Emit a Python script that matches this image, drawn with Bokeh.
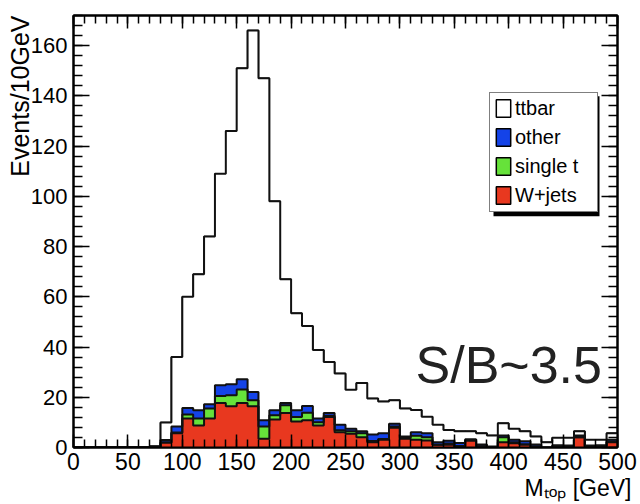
import numpy as np
from bokeh.plotting import figure
from bokeh.models import (Range1d, LinearAxis, SingleIntervalTicker, Label, Legend,
                          LegendItem, BoxAnnotation, CustomJSTickFormatter, Title)
from bokeh.embed import file_html
from bokeh.resources import INLINE

# ---- data: 10 GeV bins from 0 to 500 (left edges) ----
bin_lo = list(range(0, 500, 10))
bin_width = 10

wjets = [0, 0, 0, 0, 0, 0, 0, 0, 2.0, 5.7,
         11.5, 8.8, 11.5, 17.7, 16.4, 17.7, 16.4, 3.5, 11.1, 13.7,
         10.4, 10.8, 8.8, 12.1, 6.1, 5.5, 4.1, 2.1, 3.1, 7.9,
         3.5, 3.1, 2.8, 1.1, 1.1, 0.3, 2.8, 0.5, 0.0, 2.1,
         1.7, 1.2, 0.4, 0.0, 0.3, 0.3, 4.1, 0.3, 0.4, 2.1]
single_t = [0, 0, 0, 0, 0, 0, 0, 0, 0.0, 0.3,
            1.6, 2.7, 4.0, 2.8, 4.4, 5.4, 2.4, 4.9, 1.7, 3.1,
            1.7, 3.0, 1.3, 0.5, 0.8, 1.0, 1.6, 0.5, 0.3, 0.5,
            0.4, 1.6, 1.3, 0.0, 0.5, 0.3, 0.0, 0.0, 0.0, 2.0,
            0.4, 0.0, 0.0, 0.0, 0.0, 0.0, 0.0, 0.0, 0.0, 0.3]
other = [0, 0, 0, 0, 0, 0, 0, 0, 1.0, 2.4,
         2.6, 3.3, 1.7, 4.3, 4.4, 4.1, 3.3, 2.4, 2.0, 0.9,
         2.7, 2.7, 1.4, 1.1, 2.2, 1.0, 0.8, 2.6, 2.3, 1.1,
         0.5, 1.4, 1.6, 1.0, 1.1, 1.2, 0.5, 0.7, 0.4, 0.7,
         1.0, 1.3, 0.8, 0.0, 0.6, 0.5, 0.7, 0.5, 0.5, 0.7]
ttbar = [0, 0, 0, 0, 0, 0, 0, 0.5, 7.0, 27.6,
         44.3, 54.2, 66.8, 84.2, 100.8, 123.8, 143.9, 136.2, 83.2, 49.3,
         38.7, 31.9, 27.3, 20.3, 20.4, 15.5, 19.2, 14.3, 12.6, 9.3,
         11.1, 8.8, 6.5, 7.0, 4.3, 4.7, 3.2, 4.5, 4.4, 4.9,
         4.4, 4.0, 3.2, 2.1, 3.0, 3.1, 1.7, 2.3, 2.2, 2.6]

legend_order = ["ttbar", "other", "single t", "W+jets"]
colors = {"W+jets": "#e8381f", "single t": "#66e23a", "other": "#1443e8", "ttbar": "#ffffff"}

x_title = "M\u209c\u2092\u209a [GeV]"
y_title = "Events/10GeV"
note = "S/B~3.5"

x_ticks_step = 50
y_ticks_step = 20

# ---- figure ----
W, H = 640, 504
L, R, T, B = 73, 23, 15, 57
XMAX, YMAX = 500, 172
FONT = "Liberation Sans"

p = figure(width=W, height=H, x_range=Range1d(0, XMAX), y_range=Range1d(0, YMAX),
           output_backend="svg", toolbar_location=None,
           min_border_left=L, min_border_right=R, min_border_top=T, min_border_bottom=B)
p.xgrid.visible = False
p.ygrid.visible = False
p.outline_line_color = "black"
p.outline_line_width = 2
p.background_fill_color = "white"
p.border_fill_color = "white"

# stacking
stack = [("W+jets", wjets), ("single t", single_t), ("other", other), ("ttbar", ttbar)]
x_step = bin_lo + [bin_lo[-1] + bin_width]
left = np.array(bin_lo, dtype=float)
right = left + bin_width

# per-bin boxes (they carry the legend swatches; their inner edges get covered below)
quad_r = {}
base = np.zeros(len(bin_lo))
for name, vals in stack:
    top = base + np.array(vals)
    quad_r[name] = p.quad(left=left, right=right, bottom=base, top=top,
                          fill_color=colors[name], line_color="black", line_width=1.5)
    base = top

# seamless fills + step outlines
base = np.zeros(len(bin_lo))
levels = []
for name, vals in stack:
    top = base + np.array(vals)
    y1 = list(base) + [base[-1]]
    y2 = list(top) + [top[-1]]
    p.varea_step(x=x_step, y1=y1, y2=y2, step_mode="after", fill_color=colors[name])
    levels.append(y2)
    base = top
for y2 in levels:
    p.step(x=x_step, y=y2, mode="after", line_color="#111111", line_width=2)

# ---- axes ----
def style_axis(ax, ticker, tick_in, minor_in, labels_on=True, size="23px"):
    ax.ticker = ticker
    ax.major_tick_in = tick_in
    ax.major_tick_out = 0
    ax.minor_tick_in = minor_in
    ax.minor_tick_out = 0
    ax.axis_line_width = 2
    ax.major_tick_line_width = 1.5
    ax.minor_tick_line_width = 1.5
    ax.axis_line_color = "black"
    if labels_on:
        ax.major_label_text_font = FONT
        ax.major_label_text_font_size = size
        ax.major_label_text_color = "black"
    else:
        ax.major_label_text_font_size = "0px"
        ax.formatter = CustomJSTickFormatter(code="return ''")
        ax.major_label_standoff = 0

style_axis(p.xaxis[0], SingleIntervalTicker(interval=x_ticks_step, num_minor_ticks=5), 13, 8,
           size="23px")
style_axis(p.yaxis[0], SingleIntervalTicker(interval=y_ticks_step, num_minor_ticks=5), 16, 9,
           size="22px")
p.xaxis[0].major_label_standoff = 5
p.yaxis[0].major_label_standoff = 6

ax_top = LinearAxis()
style_axis(ax_top, SingleIntervalTicker(interval=x_ticks_step, num_minor_ticks=5), 13, 8, False)
p.add_layout(ax_top, "above")
ax_right = LinearAxis()
style_axis(ax_right, SingleIntervalTicker(interval=y_ticks_step, num_minor_ticks=5), 16, 9, False)
p.add_layout(ax_right, "right")

# ---- axis titles (as side titles so they sit outside the frame) ----
p.add_layout(Title(text=y_title, align="right", text_font=FONT, text_font_size="25px",
                   text_font_style="normal", text_color="black", standoff=-12, offset=0),
             "left")
p.add_layout(Title(text=x_title, align="right", text_font=FONT, text_font_size="23px",
                   text_font_style="normal", text_color="black", standoff=0, offset=-14),
             "below")

# helpers: layout pixel positions -> data positions
def dx(px):
    return (px - L) * XMAX / (W - L - R)

def dy(py):
    return (H - B - py) * YMAX / (H - T - B)

# ---- S/B annotation ----
p.add_layout(Label(x=dx(415), y=dy(364), text=note, text_align="left",
                   text_baseline="alphabetic", text_font=FONT, text_font_size="52px",
                   text_color="#222222"))

# ---- legend with shadow ----
p.add_layout(BoxAnnotation(left=dx(493), right=dx(599), top=dy(95.7), bottom=dy(215.7),
                           fill_color="black", fill_alpha=1, line_color=None, level="underlay"))
items = [LegendItem(label=name, renderers=[quad_r[name]]) for name in legend_order]
legend = Legend(items=items, location=(489 - L, H - B - 211.7),
                border_line_color="black", border_line_width=1,
                background_fill_color="white", background_fill_alpha=1,
                padding=4, margin=0, spacing=6, glyph_width=18, glyph_height=22,
                label_standoff=3, label_width=78, label_height=22,
                label_text_font=FONT, label_text_font_size="20px",
                label_text_color="black")
p.add_layout(legend)

open("out.html", "w").write(file_html(p, INLINE))
